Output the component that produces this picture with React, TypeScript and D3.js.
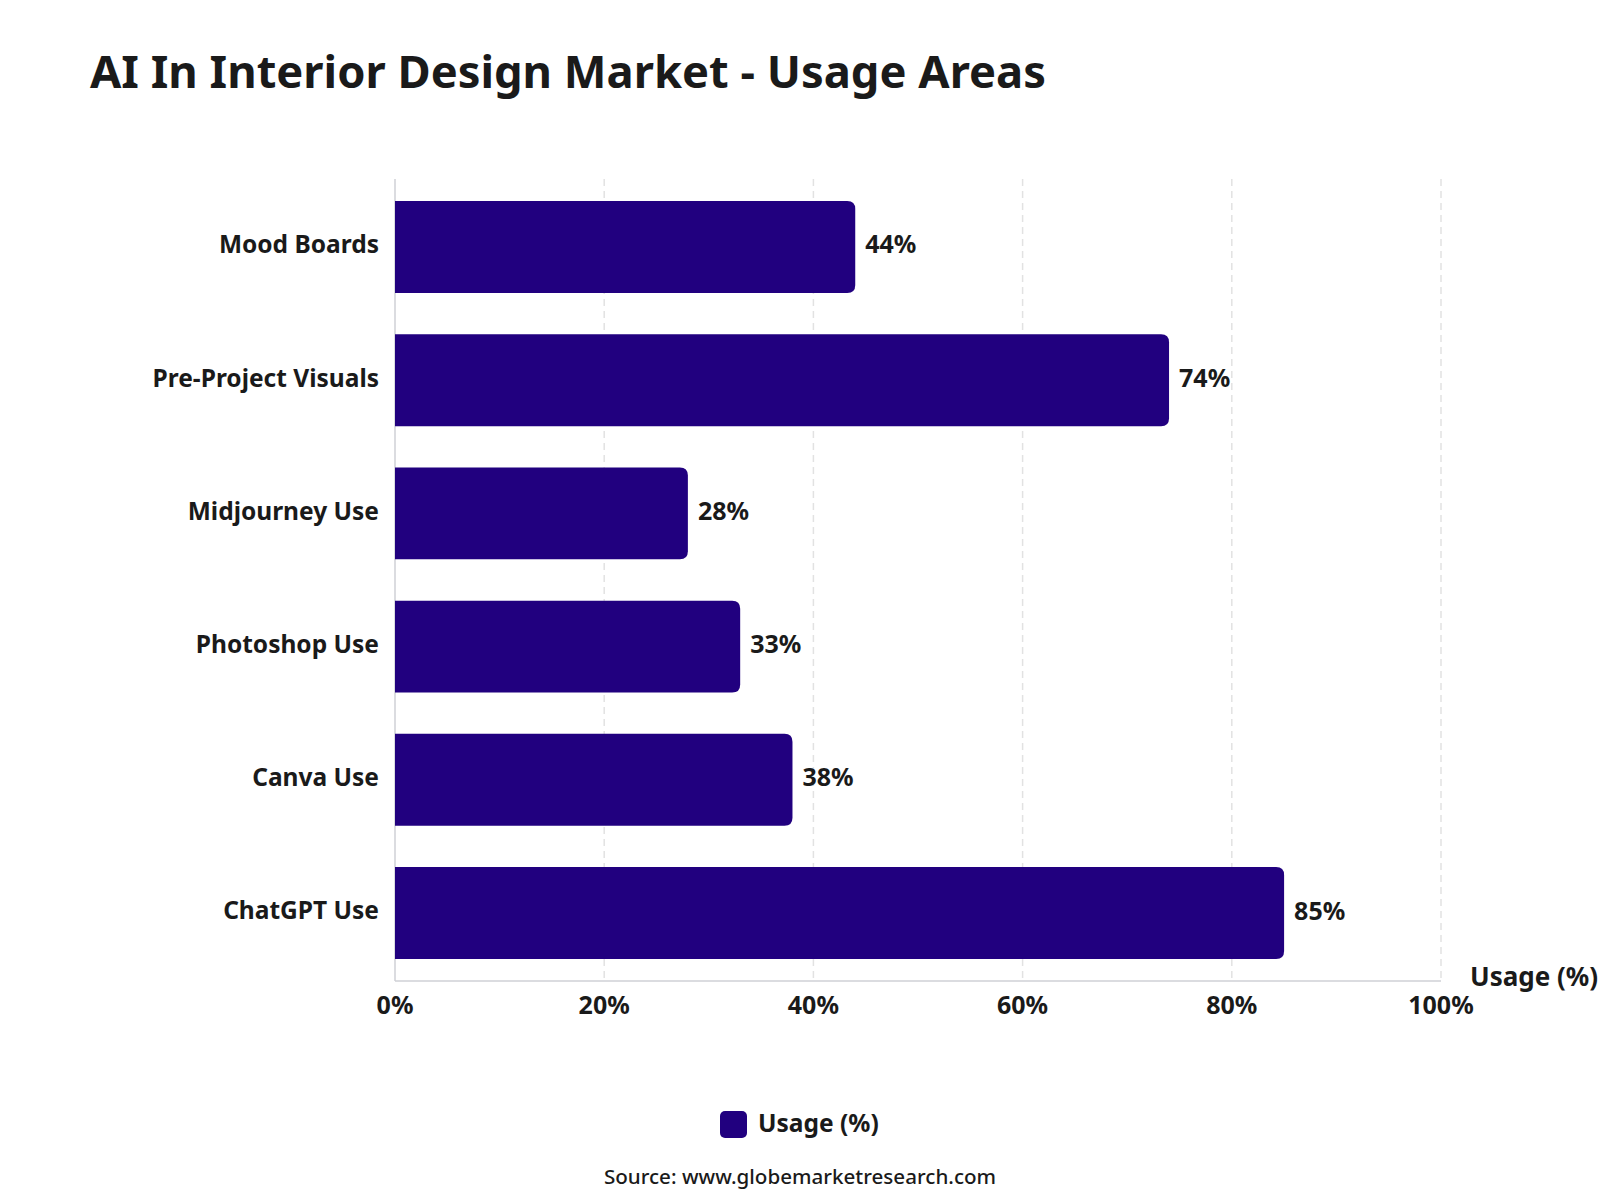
import React, { useEffect, useRef } from 'react';
import * as d3 from 'd3';

const categories = ['Mood Boards', 'Pre-Project Visuals', 'Midjourney Use', 'Photoshop Use', 'Canva Use', 'ChatGPT Use'];
const usage = [44, 74, 28, 33, 38, 85];
const xTicks = [0, 20, 40, 60, 80, 100];
const seriesName = 'Usage (%)';

const FONT = '"Noto Sans", "Open Sans", sans-serif';
const BAR = '#21007f';

const App: React.FC = () => {
  const chartRef = useRef<SVGSVGElement>(null);

  useEffect(() => {
    if (!chartRef.current) return;
    const svg = d3.select(chartRef.current);
    svg.selectAll('*').remove();

    const margin = { top: 179, left: 395, right: 159, bottom: 219 };
    const width = 1600 - margin.left - margin.right;
    const height = 1200 - margin.top - margin.bottom;

    svg.append('rect').attr('width', 1600).attr('height', 1200).attr('fill', '#fff');

    svg.append('text')
      .attr('x', 90)
      .attr('y', 88)
      .text('AI In Interior Design Market - Usage Areas')
      .style('font-family', FONT)
      .style('font-size', '45.3px')
      .style('font-weight', 'bold')
      .style('fill', '#1a1a1a');

    const g = svg.append('g').attr('transform', `translate(${margin.left},${margin.top})`);

    const x = d3.scaleLinear().domain([0, 100]).range([0, width]);
    const y = d3.scaleBand().domain(categories).range([0, height]).paddingInner(0.31).paddingOuter(0.165);

    // dashed grid
    xTicks.filter(t => t > 0).forEach(t => {
      g.append('line')
        .attr('x1', x(t)).attr('x2', x(t))
        .attr('y1', 0).attr('y2', height)
        .attr('stroke', '#e2e2e2')
        .attr('stroke-width', 1.5)
        .attr('stroke-dasharray', '7,5');
    });

    // axis lines
    g.append('line').attr('x1', 0).attr('x2', 0).attr('y1', 0).attr('y2', height)
      .attr('stroke', '#cfd0d6').attr('stroke-width', 1.5);
    g.append('line').attr('x1', 0).attr('x2', width).attr('y1', height).attr('y2', height)
      .attr('stroke', '#cfd0d6').attr('stroke-width', 1.5);

    const r = 8;
    categories.forEach((c, i) => {
      const y0 = y(c)!;
      const bh = y.bandwidth();
      const w = x(usage[i]);
      const path = `M0,${y0} H${w - r} Q${w},${y0} ${w},${y0 + r} V${y0 + bh - r} Q${w},${y0 + bh} ${w - r},${y0 + bh} H0 Z`;
      g.append('path').attr('d', path).attr('fill', BAR);

      g.append('text')
        .attr('x', -16)
        .attr('y', y0 + bh / 2)
        .attr('dy', '0.26em')
        .attr('text-anchor', 'end')
        .text(c)
        .style('font-family', FONT)
        .style('font-size', '24.5px')
        .style('font-weight', 'bold')
        .style('fill', '#1a1a1a');

      g.append('text')
        .attr('x', w + 10)
        .attr('y', y0 + bh / 2)
        .attr('dy', '0.26em')
        .text(`${usage[i]}%`)
        .style('font-family', FONT)
        .style('font-size', '25px')
        .style('font-weight', 'bold')
        .style('fill', '#1a1a1a');
    });

    xTicks.forEach(t => {
      g.append('text')
        .attr('x', x(t))
        .attr('y', height + 24)
        .attr('dy', '0.35em')
        .attr('text-anchor', 'middle')
        .text(`${t}%`)
        .style('font-family', FONT)
        .style('font-size', '25px')
        .style('font-weight', 'bold')
        .style('fill', '#1a1a1a');
    });

    g.append('text')
      .attr('x', width + 29)
      .attr('y', height - 4)
      .attr('dy', '0.35em')
      .text(seriesName)
      .style('font-family', FONT)
      .style('font-size', '26px')
      .style('font-weight', 'bold')
      .style('fill', '#1a1a1a');

    // legend
    const lg = svg.append('g').attr('transform', 'translate(720,1111)');
    lg.append('rect').attr('width', 27).attr('height', 27).attr('rx', 5).attr('fill', BAR);
    lg.append('text')
      .attr('x', 38)
      .attr('y', 12)
      .attr('dy', '0.35em')
      .text(seriesName)
      .style('font-family', FONT)
      .style('font-size', '24.5px')
      .style('font-weight', 'bold')
      .style('fill', '#1a1a1a');

    svg.append('text')
      .attr('x', 800)
      .attr('y', 1177)
      .attr('dy', '0.35em')
      .attr('text-anchor', 'middle')
      .text('Source: www.globemarketresearch.com')
      .style('font-family', FONT)
      .style('font-size', '20.6px')
      .style('font-weight', 500)
      .style('fill', '#1a1a1a');
  }, []);

  return (
    <svg
      ref={chartRef}
      width={1600}
      height={1200}
      style={{ position: 'absolute', left: 0, top: 0 }}
    ></svg>
  );
};

export default App;
